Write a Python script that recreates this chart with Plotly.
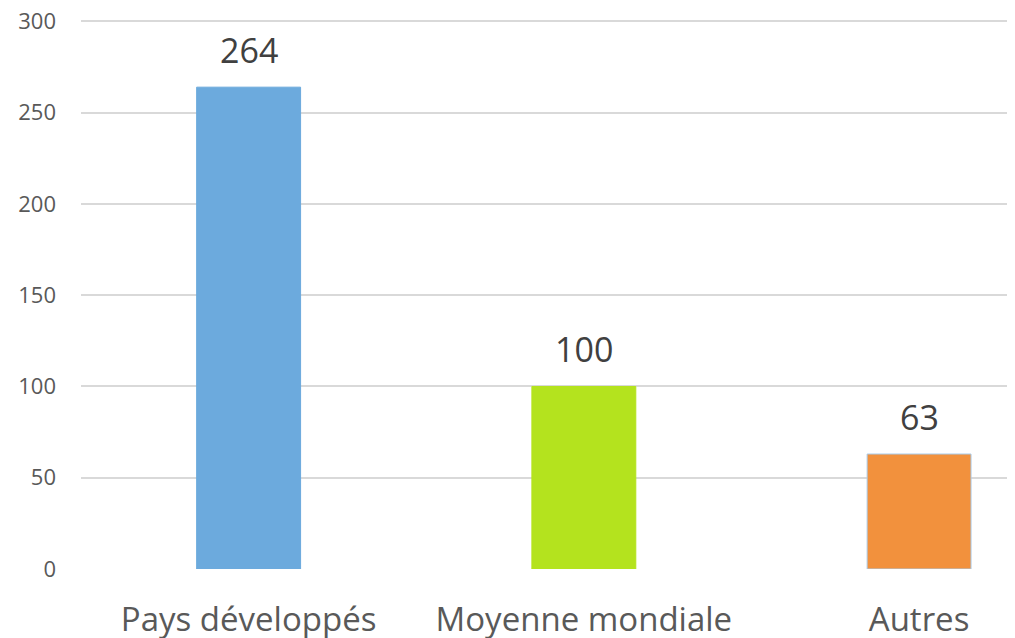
import plotly.graph_objects as go

categories = ["Pays développés", "Moyenne mondiale", "Autres"]
values = [264, 100, 63]
colors = ["#6CAADD", "#B4E31E", "#F2913D"]
edges = ["#6CAADD", "#B4E31E", "#A9CBEA"]
y_ticks = [0, 50, 100, 150, 200, 250, 300]

FONT = "Open Sans, Noto Sans, sans-serif"

fig = go.Figure(go.Bar(
    x=categories, y=values,
    marker=dict(color=colors, line=dict(color=edges, width=1)),
    width=0.31,
))

for cat, val in zip(categories, values):
    fig.add_annotation(
        x=cat, y=val, text=str(val), showarrow=False,
        yanchor="bottom", yshift=12,
        font=dict(family=FONT, size=34, color="#404040"),
    )

# page body adds an 8px offset, so margins are trimmed to compensate
fig.update_layout(
    width=1015, height=638,
    margin=dict(l=73, r=0, t=12, b=77),
    plot_bgcolor="white", paper_bgcolor="white",
    showlegend=False,
    font=dict(family=FONT),
    xaxis=dict(
        range=[-0.5, 2.31], showgrid=False, showline=False, zeroline=False,
        automargin=False, ticklabeloverflow="allow",
        tickfont=dict(size=33, color="#595959"), ticklabelstandoff=28,
    ),
    yaxis=dict(
        range=[0, 300.8], tickvals=y_ticks, showgrid=True, gridcolor="#D9D9D9",
        gridwidth=2, zeroline=False, showline=False, automargin=False,
        ticklabeloverflow="allow",
        tickfont=dict(size=22, color="#595959"), ticklabelstandoff=24,
    ),
)

fig.write_html("out.html")
